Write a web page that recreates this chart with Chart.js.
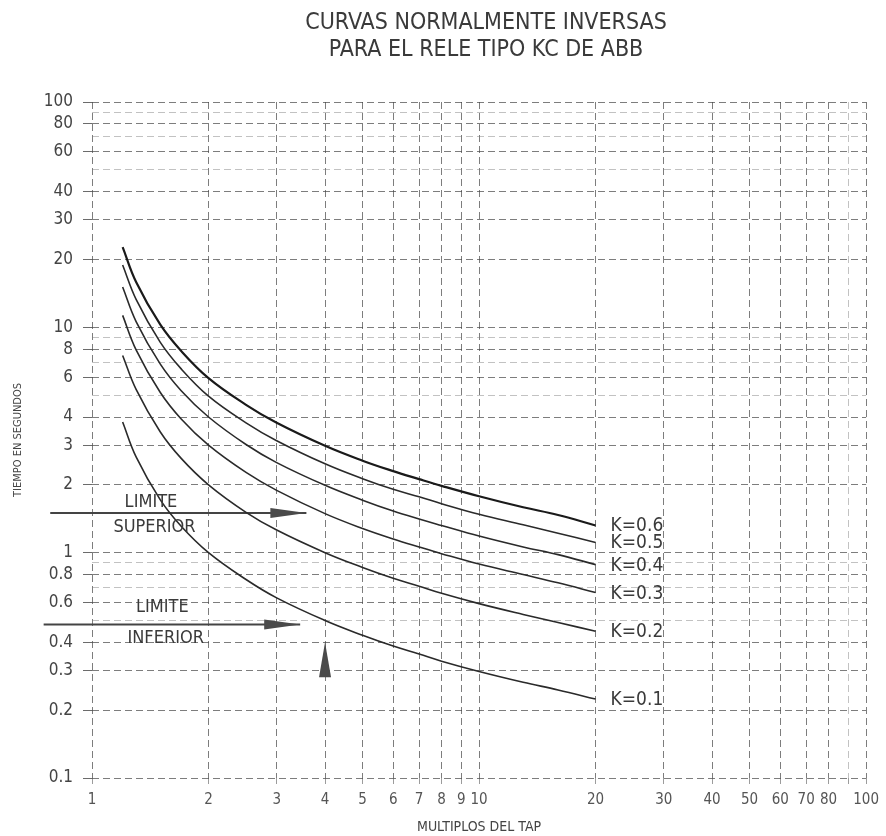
<!DOCTYPE html>
<html><head><meta charset="utf-8">
<script src="https://cdn.jsdelivr.net/npm/chart.js@4/dist/chart.umd.min.js"></script>
<style>html,body{margin:0;padding:0;background:#fff}canvas{display:block}</style>
</head><body>
<canvas id="c" width="886" height="836"></canvas>
<script>
// ---- texts ----
const tituloLineas = ['CURVAS NORMALMENTE INVERSAS', 'PARA EL RELE TIPO KC DE ABB'];
const ejeXTitulo = 'MULTIPLOS DEL TAP';
const ejeYTitulo = 'TIEMPO EN SEGUNDOS';

// ---- data ----
const multiplos = [1.2, 1.3, 1.5, 1.7, 2, 2.5, 3, 4, 5, 6, 7, 8, 10, 13, 16, 20];
const tK01 = [3.8, 2.66, 1.72, 1.31, 1.00, 0.76, 0.63, 0.50, 0.43, 0.385, 0.355, 0.33, 0.297, 0.266, 0.246, 0.224];
const tK02 = [7.5, 5.3, 3.44, 2.62, 2.0, 1.51, 1.26, 1.0, 0.86, 0.77, 0.71, 0.66, 0.594, 0.532, 0.49, 0.448];
const tK03 = [11.3, 7.95, 5.15, 3.92, 3.0, 2.27, 1.89, 1.49, 1.28, 1.15, 1.06, 0.99, 0.89, 0.80, 0.735, 0.665];
const tK04 = [15.1, 10.6, 6.88, 5.23, 4.0, 3.02, 2.51, 1.99, 1.71, 1.53, 1.41, 1.32, 1.185, 1.06, 0.98, 0.885];
const tK05 = [18.9, 13.3, 8.6, 6.54, 4.95, 3.77, 3.14, 2.48, 2.13, 1.91, 1.77, 1.65, 1.48, 1.33, 1.22, 1.11];
const tK06 = [22.7, 15.9, 10.3, 7.85, 5.95, 4.53, 3.77, 2.98, 2.56, 2.3, 2.12, 1.98, 1.78, 1.59, 1.47, 1.32];
const curvasNombres = ['K=0.1', 'K=0.2', 'K=0.3', 'K=0.4', 'K=0.5', 'K=0.6'];
const curvasValores = [tK01, tK02, tK03, tK04, tK05, tK06];

// ---- ticks ----
const xTickLabels = [1, 2, 3, 4, 5, 6, 7, 8, 9, 10, 20, 30, 40, 50, 60, 70, 80, 100];
const yTickLabels = [0.1, 0.2, 0.3, 0.4, 0.6, 0.8, 1, 2, 3, 4, 6, 8, 10, 20, 30, 40, 60, 80, 100];

// ---- annotations ----
const limiteSupX = [0.78, 3.58];
const limiteSupY = [1.5, 1.5];
const limiteInfX = [0.75, 3.45];
const limiteInfY = [0.48, 0.48];
const flechaX = [4, 4];
const flechaY = [0.28, 0.40];
const textosLimite = ['LIMITE', 'SUPERIOR', 'LIMITE', 'INFERIOR'];
const textosLimiteX = [1.42, 1.45, 1.52, 1.55];
const textosLimiteY = [1.68, 1.29, 0.57, 0.416];

// grid positions (1..9 per decade)
const xGrid = [];
for (const d of [1, 10]) for (let m = 1; m <= 9; m++) xGrid.push(m * d);
xGrid.push(100);
const yGrid = [];
for (const d of [0.1, 1, 10]) for (let m = 1; m <= 9; m++) yGrid.push(+(m * d).toFixed(1));
yGrid.push(100);

const F = "'DejaVu Sans Condensed', 'Liberation Sans Narrow', 'DejaVu Sans', sans-serif";
const INK = '#3a3a3a';

const datasets = curvasNombres.map((n, i) => ({
  label: n,
  data: multiplos.map((x, j) => ({x, y: curvasValores[i][j]})),
  borderColor: i === 5 ? '#1a1a1a' : '#2a2a2a',
  borderWidth: i === 5 ? 2.2 : 1.6,
  pointRadius: 0,
  tension: 0.4,
  fill: false
}));
datasets.push({label: 'LIMITE SUPERIOR', arrow: 'right', data: limiteSupX.map((x, j) => ({x, y: limiteSupY[j]})),
  borderColor: '#444', borderWidth: 1.8, pointRadius: 0, clip: false});
datasets.push({label: 'LIMITE INFERIOR', arrow: 'right', data: limiteInfX.map((x, j) => ({x, y: limiteInfY[j]})),
  borderColor: '#444', borderWidth: 1.8, pointRadius: 0, clip: false});
datasets.push({label: 'flecha', arrow: 'up', data: flechaX.map((x, j) => ({x, y: flechaY[j]})),
  borderColor: 'rgba(0,0,0,0)', borderWidth: 0, pointRadius: 0, clip: false});

const decor = {
  id: 'decor',
  afterDatasetsDraw(chart) {
    const ctx = chart.ctx;
    const xs = chart.scales.x, ys = chart.scales.y;
    ctx.save();
    // arrowheads
    chart.data.datasets.forEach((ds, i) => {
      if (!ds.arrow) return;
      const pts = chart.getDatasetMeta(i).data;
      const a = pts[0], b = pts[pts.length - 1];
      ctx.fillStyle = '#4a4a4a';
      ctx.beginPath();
      if (ds.arrow === 'right') {
        ctx.moveTo(b.x, b.y);
        ctx.lineTo(b.x - 36, b.y - 5);
        ctx.lineTo(b.x - 36, b.y + 5);
      } else {
        ctx.moveTo(b.x, b.y);
        ctx.lineTo(a.x - 6, a.y);
        ctx.lineTo(a.x + 6, a.y);
      }
      ctx.closePath();
      ctx.fill();
    });
    // K labels at curve ends
    ctx.fillStyle = INK;
    ctx.font = '19px ' + F;
    ctx.textAlign = 'left';
    ctx.textBaseline = 'middle';
    curvasNombres.forEach((n, i) => {
      const pts = chart.getDatasetMeta(i).data;
      const p = pts[pts.length - 1];
      ctx.fillText(n, p.x + 15, p.y + 1);
    });
    // LIMITE texts
    ctx.font = '18px ' + F;
    ctx.textAlign = 'center';
    textosLimite.forEach((t, i) => {
      ctx.fillText(t, xs.getPixelForValue(textosLimiteX[i]), ys.getPixelForValue(textosLimiteY[i]));
    });
    // title
    ctx.font = '23px ' + F;
    ctx.fillText(tituloLineas[0], 486, 23);
    ctx.fillText(tituloLineas[1], 486, 50);
    ctx.restore();
  }
};

const isXLab = v => xTickLabels.includes(v);
const isYLab = v => yTickLabels.includes(v);

new Chart(document.getElementById('c'), {
  type: 'line',
  data: {datasets},
  options: {
    responsive: false,
    animation: false,
    devicePixelRatio: 1,
    layout: {padding: {top: 102, right: 14, left: 0, bottom: 0}},
    plugins: {legend: {display: false}, title: {display: false}, tooltip: {enabled: false}},
    scales: {
      x: {
        type: 'logarithmic', min: 1, max: 100,
        afterBuildTicks: s => { s.ticks = xGrid.map(v => ({value: v})); },
        afterFit: s => { s.height = 58; },
        grid: {
          color: c => isXLab(c.tick && c.tick.value) ? 'rgba(70,70,70,0.7)' : 'rgba(120,120,120,0.45)',
          lineWidth: 1, tickLength: 6,
          tickColor: 'rgba(90,90,90,0.6)', tickBorderDash: []
        },
        border: {display: false, dash: [7, 4]},
        ticks: {
          autoSkip: false, maxRotation: 0, padding: 7, color: '#555',
          font: {family: F, size: 15},
          callback: v => isXLab(v) ? String(v) : ''
        },
        title: {display: true, text: ejeXTitulo, color: '#444', font: {family: F, size: 14}, padding: {top: 0, bottom: 0}}
      },
      y: {
        type: 'logarithmic', min: 0.1, max: 100,
        afterBuildTicks: s => { s.ticks = yGrid.map(v => ({value: v})); },
        afterFit: s => { s.width = 92; },
        grid: {
          color: c => isYLab(c.tick && c.tick.value) ? 'rgba(70,70,70,0.7)' : 'rgba(120,120,120,0.45)',
          lineWidth: 1, tickLength: 9,
          tickColor: c => isYLab(c.tick && c.tick.value) ? 'rgba(70,70,70,0.8)' : 'rgba(0,0,0,0)',
          tickBorderDash: []
        },
        border: {display: false, dash: [7, 4]},
        ticks: {
          autoSkip: false, padding: 10, color: '#444',
          font: {family: F, size: 17},
          callback: v => isYLab(v) ? String(v) : ''
        },
        title: {display: true, text: ejeYTitulo, color: '#444', font: {family: F, size: 11}, padding: {top: 12, bottom: 0}}
      }
    }
  },
  plugins: [decor]
});
</script>
</body></html>
